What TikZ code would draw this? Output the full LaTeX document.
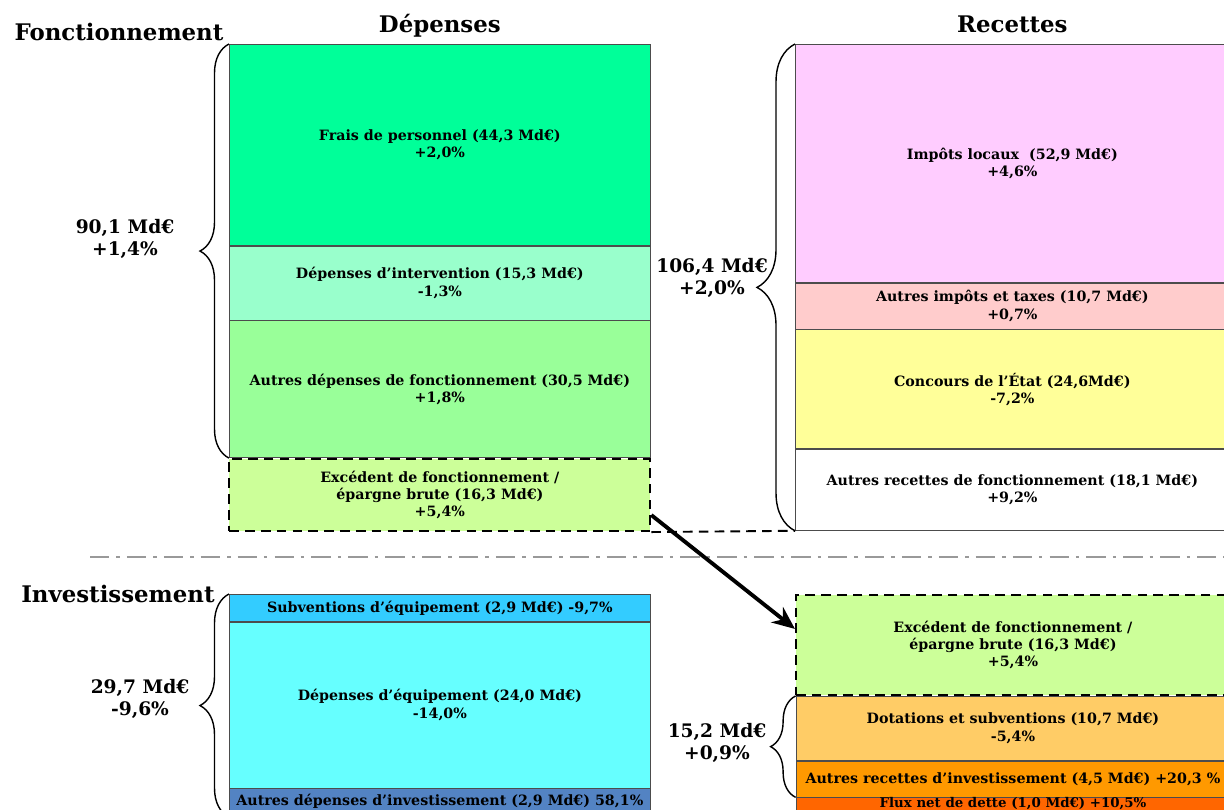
\documentclass[tikz,border=0pt]{standalone}
\usepackage{fontspec}
\setmainfont{DejaVu Serif}
\usetikzlibrary{positioning, arrows.meta, decorations.pathreplacing}

\definecolor{personnel}{HTML}{00FF99}
\definecolor{intervention}{HTML}{99FFCC}
\definecolor{autresfonct}{HTML}{99FF99}
\definecolor{epargne}{HTML}{CCFF99}
\definecolor{impots}{HTML}{FFCCFF}
\definecolor{taxes}{HTML}{FFCCCC}
\definecolor{concours}{HTML}{FFFF99}
\definecolor{subventions}{HTML}{33CCFF}
\definecolor{equipement}{HTML}{66FFFF}
\definecolor{autresinv}{HTML}{5383C3}
\definecolor{dotations}{HTML}{FFCC66}
\definecolor{recinv}{HTML}{FF9900}
\definecolor{dette}{HTML}{FF6600}

\tikzset{
        node distance=0pt, % boxes of one column are stacked with no gap
        poste/.style={draw=black!70, fill=white, minimum width=8.42cm, inner sep=0pt, align=center,
                font=\bfseries\fontsize{8.1}{9.8}\selectfont}, % one line of the budget
        recette/.style={poste, minimum width=8.68cm}, % the receipts column is a bit wider
        solde/.style={draw=black, dashed, line width=1.1pt, dash pattern=on 5.5pt off 3.5pt}, % the gross saving
        accolade/.style={decorate, decoration={brace, amplitude=#1}, thick}, % braces with their totals
        total/.style={align=center, font=\bfseries\fontsize{10.6}{13}\selectfont},
        titre/.style={inner sep=0pt, font=\bfseries\fontsize{13}{15}\selectfont},
        separation/.style={draw=black!40, line width=1.7pt, dash pattern=on 11pt off 4pt on 2pt off 4pt},
        fleche/.style={-{Stealth[length=13pt, width=11pt]}, line width=2.2pt},
        }

\begin{document}
\begin{tikzpicture}
        \useasboundingbox (0,0) rectangle (24.48,-16.2);

        % fonctionnement, depenses
        \node[poste, fill=personnel, minimum height=4.02cm, anchor=north west] (Personnel) at (4.58,-0.88) {Frais de personnel (44,3 Md€)\\+2,0\%};
        \node[poste, fill=intervention, minimum height=1.48cm, below=of Personnel] (Intervention) {Dépenses d’intervention (15,3 Md€)\\-1,3\%};
        \node[poste, fill=autresfonct, minimum height=2.74cm, below=of Intervention] (AutresFonct) {Autres dépenses de fonctionnement (30,5 Md€)\\+1,8\%};
        \node[poste, fill=epargne, minimum height=1.44cm, below=of AutresFonct, solde] (EpargneF) {Excédent de fonctionnement /\\épargne brute (16,3 Md€)\\+5,4\%};

        % fonctionnement, recettes
        \node[recette, fill=impots, minimum height=4.76cm, anchor=north west] (Impots) at (15.9,-0.88) {Impôts locaux\ \ (52,9 Md€)\\+4,6\%};
        \node[recette, fill=taxes, minimum height=0.92cm, below=of Impots] (Taxes) {Autres impôts et taxes (10,7 Md€)\\+0,7\%};
        \node[recette, fill=concours, minimum height=2.38cm, below=of Taxes] (Concours) {Concours de l’État (24,6Md€)\\-7,2\%};
        \node[recette, minimum height=1.62cm, below=of Concours] (AutresRecettes) {Autres recettes de fonctionnement (18,1 Md€)\\+9,2\%};

        % investissement, depenses
        \node[poste, fill=subventions, minimum height=0.54cm, anchor=north west] (Subventions) at (4.58,-11.88) {Subventions d’équipement (2,9 Md€) -9,7\%};
        \node[poste, fill=equipement, minimum height=3.32cm, below=of Subventions] (Equipement) {Dépenses d’équipement (24,0 Md€)\\-14,0\%};
        \node[poste, fill=autresinv, minimum height=0.5cm, below=of Equipement] (AutresInv) {Autres dépenses d’investissement (2,9 Md€) 58,1\%};

        % investissement, recettes
        \node[recette, fill=epargne, minimum height=2.0cm, anchor=north west, solde] (EpargneI) at (15.9,-11.88) {Excédent de fonctionnement /\\épargne brute (16,3 Md€)\\+5,4\%};
        \node[recette, fill=dotations, minimum height=1.28cm, below=of EpargneI] (Dotations) {Dotations et subventions (10,7 Md€)\\-5,4\%};
        \node[recette, fill=recinv, minimum height=0.72cm, below=of Dotations] (RecInv) {Autres recettes d’investissement (4,5 Md€) +20,3 \%};
        \node[recette, fill=dette, text depth=0.3cm, font=\bfseries\fontsize{7.6}{9}\selectfont, below=of RecInv] (Dette) {Flux net de dette (1,0 Md€) +10,5\%};

        % titles
        \node[titre, anchor=base east] (Fonctionnement) at ([xshift=-3pt, yshift=2pt]Personnel.north west) {Fonctionnement};
        \node[titre, anchor=base east] (Investissement) at ([xshift=-8pt, yshift=-5pt]Subventions.north west) {Investissement};
        \node[titre, above=3.6pt of Personnel] (Depenses) {Dépenses};
        \node[titre, above=6.2pt of Impots] (Recettes) {Recettes};

        % totals
        \draw[accolade=0.58cm] (AutresFonct.south west) -- (Personnel.north west);
        \draw[accolade=0.76cm] (AutresRecettes.south west) -- (Impots.north west);
        \draw[accolade=0.58cm] ([yshift=-0.06cm]AutresInv.south west) -- (Subventions.north west);
        \draw[accolade=0.5cm] (RecInv.south west) -- (Dotations.north west);
        \node[total] (TotalDF) at (2.5,-4.78) {90,1 Md€\\+1,4\%};
        \node[total] (TotalRF) at (14.24,-5.56) {106,4 Md€\\+2,0\%};
        \node[total] (TotalDI) at (2.8,-13.98) {29,7 Md€\\-9,6\%};
        \node[total] (TotalRI) at (14.34,-14.86) {15,2 Md€\\+0,9\%};

        % saving goes to investment
        \draw[solde] (EpargneF.south east) -- (AutresRecettes.south west);
        \coordinate (SepA) at (1.8,-11.14);
        \coordinate (SepB) at (24.6,-11.14);
        \draw[separation] (SepA) -- (SepB);
        \draw[fleche] ([yshift=-0.4cm]EpargneF.east) -- ([yshift=0.32cm]EpargneI.west);
\end{tikzpicture}
\end{document}
